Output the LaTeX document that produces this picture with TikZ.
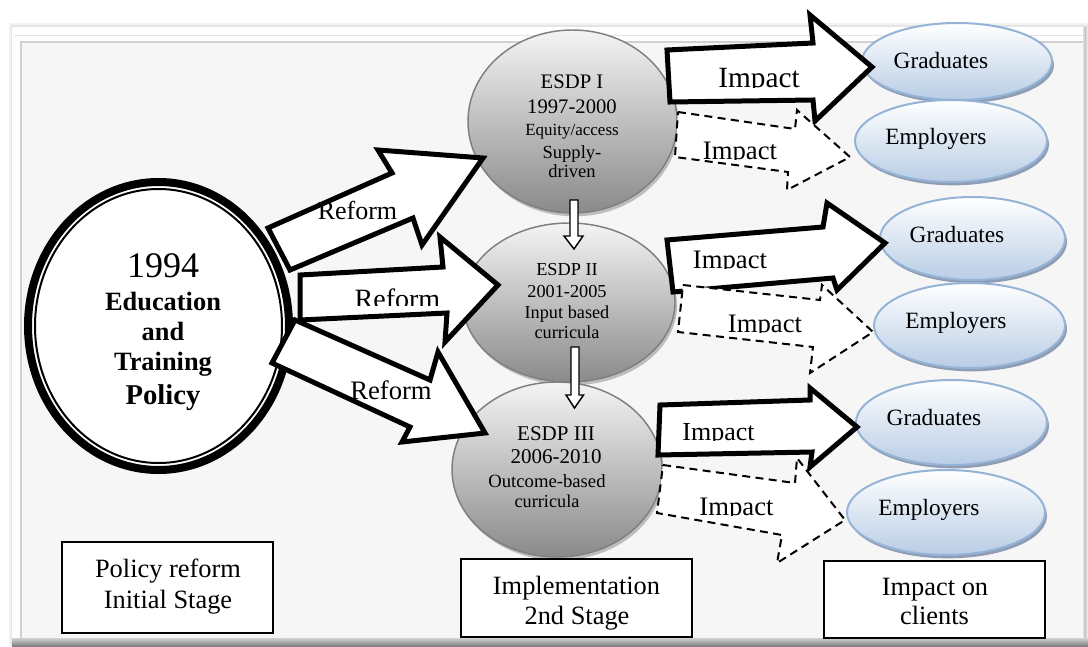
\documentclass[tikz,border=0pt]{standalone}
\usepackage{fontspec}
\setmainfont{Liberation Serif}
\usetikzlibrary{shapes.geometric,shadows}
\newcommand\setfs[1]{\fontsize{#1}{#1}\selectfont}
\definecolor{panel}{HTML}{F6F6F6}
\definecolor{bluebd}{HTML}{95B3D7}
\definecolor{bluebt}{HTML}{B9CDE5}
\definecolor{blueshd}{HTML}{8E9DB3}
\definecolor{graybd}{HTML}{7F7F7F}
\definecolor{graytop}{HTML}{F4F4F4}
\definecolor{graybot}{HTML}{8A8A8A}
\definecolor{grayshd}{HTML}{BDBDBD}
\begin{document}
\begin{tikzpicture}[x=0.75pt,y=-0.75pt,
  lbl/.style={anchor=base,inner sep=0pt,outer sep=0pt},
  esdp/.style={ellipse,inner sep=0pt,draw=graybd,line width=1.1pt,
    top color=graytop,bottom color=graybot,
    drop shadow={shadow xshift=1.5pt,shadow yshift=-2.5pt,fill=grayshd,opacity=1}},
  client/.style={ellipse,inner sep=0pt,draw=bluebd,line width=1.5pt,
    top color=white,bottom color=bluebt,
    drop shadow={shadow xshift=1.5pt,shadow yshift=-2.5pt,fill=blueshd,opacity=1}},
  stagebox/.style={draw,fill=white,line width=1.1pt,inner sep=0pt},
  blk/.style={draw,fill=white,line width=3.75pt,line join=miter,miter limit=10},
  dblk/.style={draw,fill=white,line width=1.5pt,dash pattern=on 6pt off 4pt},
  sblk/.style={draw,fill=white,line width=1.1pt,line join=miter}]
\useasboundingbox (0,0) rectangle (1088,646);

% frame and panel
\fill[white] (0,0) rectangle (1088,646);
\fill[black!5] (9,23) rectangle (1088,646);
\fill[black!10] (11,25) rectangle (1088,646);
\fill[white] (12,27) rectangle (1086,640);
\draw[black!10,line width=0.75pt] (14,35) -- (1083,35);
\fill[panel] (22,43) rectangle (1083,638);
\draw[black!18,line width=1pt] (21,638) -- (21,42) -- (1083,42);
\shade[left color=black!12,right color=black!30] (1083,27) rectangle (1086,638);
\shade[top color=black!18,bottom color=black!50] (12,638) rectangle (1088,646);

% policy circle
\node[ellipse,draw,fill=white,line width=6pt,inner sep=0pt,
  minimum width=195.75pt,minimum height=216pt] (policy) at (158.5,326) {};
\node[ellipse,draw,line width=1.5pt,inner sep=0pt,
  minimum width=185.25pt,minimum height=205.5pt] (policyin) at (158.5,326) {};
\node[lbl,font=\setfs{27}] (t1994) at (163,277) {1994};
\node[lbl,font=\bfseries\setfs{19.8}] (tedu) at (163,310) {Education};
\node[lbl,font=\bfseries\setfs{19.8}] (tand) at (163,340) {and};
\node[lbl,font=\bfseries\setfs{19.8}] (ttrain) at (163,370) {Training};
\node[lbl,font=\bfseries\setfs{21.5}] (tpol) at (163,404) {Policy};

% programme ellipses
\node[esdp,minimum width=156.75pt,minimum height=137.25pt] (esdp1) at (572.5,121.5) {};
\node[esdp,minimum width=159pt,minimum height=119.25pt] (esdp2) at (569,302.5) {};
\node[esdp,minimum width=157.5pt,minimum height=131.25pt] (esdp3) at (557,469.5) {};

% client ellipses
\node[client,minimum width=142.5pt,minimum height=57.75pt] (grad1) at (957,61.5) {};
\node[client,minimum width=144pt,minimum height=61.5pt] (emp1) at (951,141) {};
\node[client,minimum width=138.75pt,minimum height=62.25pt] (grad2) at (972.5,238.5) {};
\node[client,minimum width=143.25pt,minimum height=63.75pt] (emp2) at (969.5,325.5) {};
\node[client,minimum width=143.25pt,minimum height=63.75pt] (grad3) at (951.5,422.5) {};
\node[client,minimum width=148.5pt,minimum height=63.75pt] (emp3) at (946,512.5) {};
\node[lbl,font=\setfs{17.5}] (tgrad1) at (941,68) {Graduates};
\node[lbl,font=\setfs{17.5}] (temp1) at (936,144) {Employers};
\node[lbl,font=\setfs{17.5}] (tgrad2) at (957,242) {Graduates};
\node[lbl,font=\setfs{17.5}] (temp2) at (956,328) {Employers};
\node[lbl,font=\setfs{17.5}] (tgrad3) at (934,425) {Graduates};
\node[lbl,font=\setfs{17.5}] (temp3) at (929,515) {Employers};

% reform arrows
\draw[blk] (268,228) -- (392,173) -- (378,150) -- (483,158) -- (422,245) -- (413,218) -- (290,270) -- cycle;
\node[lbl,font=\setfs{19.5}] (ref1) at (357.5,219) {Reform};
\draw[blk] (300,275) -- (443,267) -- (440,237) -- (498,285) -- (445,342) -- (447,313) -- (300,320) -- cycle;
\begin{scope}
  \clip (330,270) rectangle (470,305.5);
  \node[lbl,font=\setfs{21}] (ref2) at (397.5,308.5) {Reform};
\end{scope}
\draw[blk] (295,320) -- (430,380) -- (438,352) -- (485,433) -- (402,442) -- (410,427) -- (272,363) -- cycle;
\node[lbl,font=\setfs{20}] (ref3) at (391,399.5) {Reform};

% impact arrows
\draw[blk] (667,50) -- (813,43) -- (810,15) -- (872,67) -- (815,121) -- (813,100) -- (670,102) -- cycle;
\begin{scope}
  \clip (700,55) rectangle (820,87.5);
  \node[lbl,font=\setfs{22}] (imp1) at (759,87.5) {Impact};
\end{scope}
\draw[dblk] (678,112) -- (795,129) -- (797,110) -- (850,157) -- (787,190) -- (788,172) -- (675,157) -- cycle;
\begin{scope}
  \clip (690,130) rectangle (800,159.5);
  \node[lbl,font=\setfs{20}] (imp2) at (740,159.5) {Impact};
\end{scope}
\draw[blk] (667,240) -- (823,227) -- (827,203) -- (885,243) -- (837,290) -- (833,278) -- (673,292) -- cycle;
\begin{scope}
  \clip (680,240) rectangle (790,268.5);
  \node[lbl,font=\setfs{20}] (imp3) at (730,268.5) {Impact};
\end{scope}
\draw[dblk] (683,285) -- (820,300) -- (822,285) -- (873,332) -- (810,373) -- (813,347) -- (678,332) -- cycle;
\begin{scope}
  \clip (715,300) rectangle (815,332.5);
  \node[lbl,font=\setfs{20}] (imp4) at (765,332.5) {Impact};
\end{scope}
\draw[blk] (660,405) -- (810,400) -- (810,388) -- (857,427) -- (810,467) -- (812,452) -- (658,455) -- cycle;
\begin{scope}
  \clip (670,410) rectangle (780,440.5);
  \node[lbl,font=\setfs{19.5}] (imp5) at (718.5,440.5) {Impact};
\end{scope}
\draw[dblk] (663,465) -- (795,483) -- (797,458) -- (845,520) -- (777,563) -- (782,535) -- (657,513) -- cycle;
\begin{scope}
  \clip (685,485) rectangle (790,515.5);
  \node[lbl,font=\setfs{20}] (imp6) at (736.5,515.5) {Impact};
\end{scope}

% arrows between programmes
\draw[sblk] (570,200) -- (578,200) -- (578,236) -- (583,236) -- (574,249) -- (564,236) -- (570,236) -- cycle;
\draw[sblk] (571,347) -- (579,347) -- (579,395) -- (583.5,395) -- (574.5,408) -- (566,395) -- (571,395) -- cycle;

% programme texts
\node[lbl,font=\setfs{15.5}] (e1a) at (572,88) {ESDP I};
\node[lbl,font=\setfs{15.5}] (e1b) at (572,113) {1997-2000};
\node[lbl,font=\setfs{12.75}] (e1c) at (572,135) {Equity/access};
\node[lbl,font=\setfs{13.9}] (e1d) at (572,158) {Supply-};
\node[lbl,font=\setfs{13.9}] (e1e) at (572,177) {driven};
\node[lbl,font=\setfs{13.7}] (e2a) at (567,275) {ESDP II};
\node[lbl,font=\setfs{13.7}] (e2b) at (567,297) {2001-2005};
\node[lbl,font=\setfs{13.7}] (e2c) at (567,318) {Input based};
\node[lbl,font=\setfs{13.7}] (e2d) at (567,338) {curricula};
\node[lbl,font=\setfs{15.75}] (e3a) at (556,440) {ESDP III};
\node[lbl,font=\setfs{15.75}] (e3b) at (556,463) {2006-2010};
\node[lbl,font=\setfs{14}] (e3c) at (547,487) {Outcome-based};
\node[lbl,font=\setfs{13.7}] (e3d) at (547,507) {curricula};

% stage boxes
\node[stagebox,minimum width=158.25pt,minimum height=68.25pt] (stage1) at (167.5,587.5) {};
\node[lbl,font=\setfs{19.8}] (s1a) at (168,577) {Policy reform};
\node[lbl,font=\setfs{19.8}] (s1b) at (168,608) {Initial Stage};
\node[stagebox,minimum width=173.25pt,minimum height=58.5pt] (stage2) at (576.5,598) {};
\begin{scope}
  \clip (stage2.south west) rectangle (stage2.north east);
  \node[lbl,font=\setfs{19.8}] (s2a) at (576.5,594) {Implementation};
  \node[lbl,font=\setfs{19.8}] (s2b) at (577,624) {2nd Stage};
\end{scope}
\node[stagebox,minimum width=165.75pt,minimum height=57.75pt] (stage3) at (934.5,599.5) {};
\node[lbl,font=\setfs{19.8}] (s3a) at (935,595) {Impact on};
\node[lbl,font=\setfs{19.8}] (s3b) at (934.5,624) {clients};
\end{tikzpicture}
\end{document}
